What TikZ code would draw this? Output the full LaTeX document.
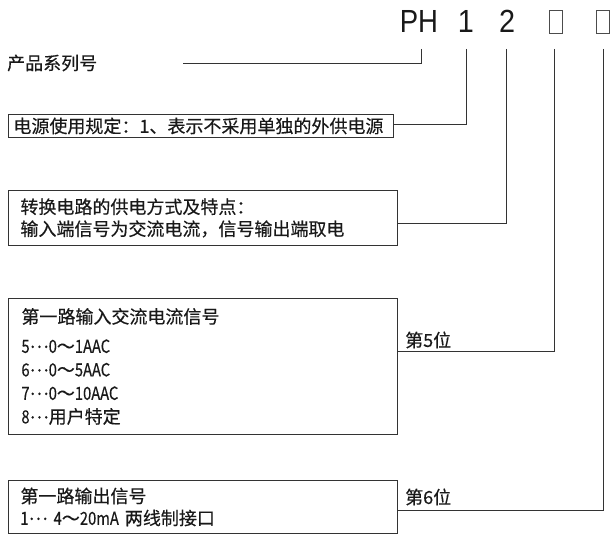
\documentclass[tikz,border=0pt]{standalone}
\usepackage{fontspec}
\newfontfamily\cjk{Noto Sans CJK SC}[FakeBold=0.4]
\newfontfamily\hdr{Liberation Sans}
\newcommand{\md}{\raisebox{5pt}{…}}
\newcommand{\nr}[1]{\scalebox{0.82}[1]{#1}}
\begin{document}
\begin{tikzpicture}[x=1pt,y=-1pt,
  ln/.style={draw=black!80,line width=0.9pt},
  txt/.style={font=\cjk\fontsize{18}{22}\selectfont,inner sep=0pt,text=black!90},
  hd/.style={font=\hdr\fontsize{32}{36}\selectfont,inner sep=0pt,anchor=base,text=black!90},
  tofu/.style={draw=black!70,line width=0.7pt,minimum width=13pt,minimum height=23pt,inner sep=0pt},
  box/.style={draw=black!80,line width=0.9pt,anchor=north west,align=left,inner ysep=0pt,
    font=\cjk\fontsize{18}{22}\selectfont,text=black!90}]
\useasboundingbox (0,0) rectangle (612,534);
% header
\node[hd] (ph) at (419,33) {\scalebox{0.86}[1]{PH}};
\node[hd] (d1) at (466,33) {\scalebox{0.9}[1]{1}};
\node[hd] (d2) at (507,33) {\scalebox{0.9}[1]{2}};
\node[tofu] (b5) at (556,22) {};
\node[tofu] (b6) at (603,22) {};
% connector tops
\coordinate (cph) at (421,49);
\coordinate (c1) at (466,49);
\coordinate (c2) at (506,49);
\coordinate (c5) at (554,49);
\coordinate (c6) at (603,49);
\coordinate (phend) at (183,63);
% texts
\node[txt,anchor=west] (series) at (7,63) {产品系列号};
\node[box,minimum width=385pt,minimum height=23pt,text width=375pt,inner xsep=5pt] (box1) at (8,114)
  {电源使用规定：1、表示不采用单独的外供电源};
\node[box,minimum width=389pt,minimum height=55pt,text width=365pt,inner xsep=12pt] (box2) at (8,190)
  {转换电路的供电方式及特点：\\输入端信号为交流电流，信号输出端取电};
\node[box,minimum width=389pt,minimum height=136pt,text width=363pt,inner xsep=13pt,
  font=\cjk\fontsize{18}{23.5}\selectfont] (box3) at (8,298)
  {第一路输入交流电流信号\\[6pt]\nr{5}\md\nr{0}～\nr{1AAC}\\\nr{6}\md\nr{0}～\nr{5AAC}\\\nr{7}\md\nr{0}～\nr{10AAC}\\\nr{8}\md 用户特定};
\node[box,minimum width=389pt,minimum height=53pt,text width=365pt,inner xsep=12pt] (box4) at (8,480)
  {第一路输出信号\\\nr{1}\md\ \nr{4}～\nr{20mA} 两线制接口};
\node[txt,anchor=west] (pos5) at (405,340) {第5位};
\node[txt,anchor=west] (pos6) at (405,497) {第6位};
% connectors
\draw[ln] (cph) |- (phend);
\draw[ln] (c1) |- ([yshift=1.5pt]box1.east);
\draw[ln] (c2) |- ([yshift=-5.5pt]box2.east);
\draw[ln] (c5) |- ([yshift=15pt]box3.east);
\draw[ln] (c6) |- ([yshift=-3.5pt]box4.east);
\end{tikzpicture}
\end{document}
